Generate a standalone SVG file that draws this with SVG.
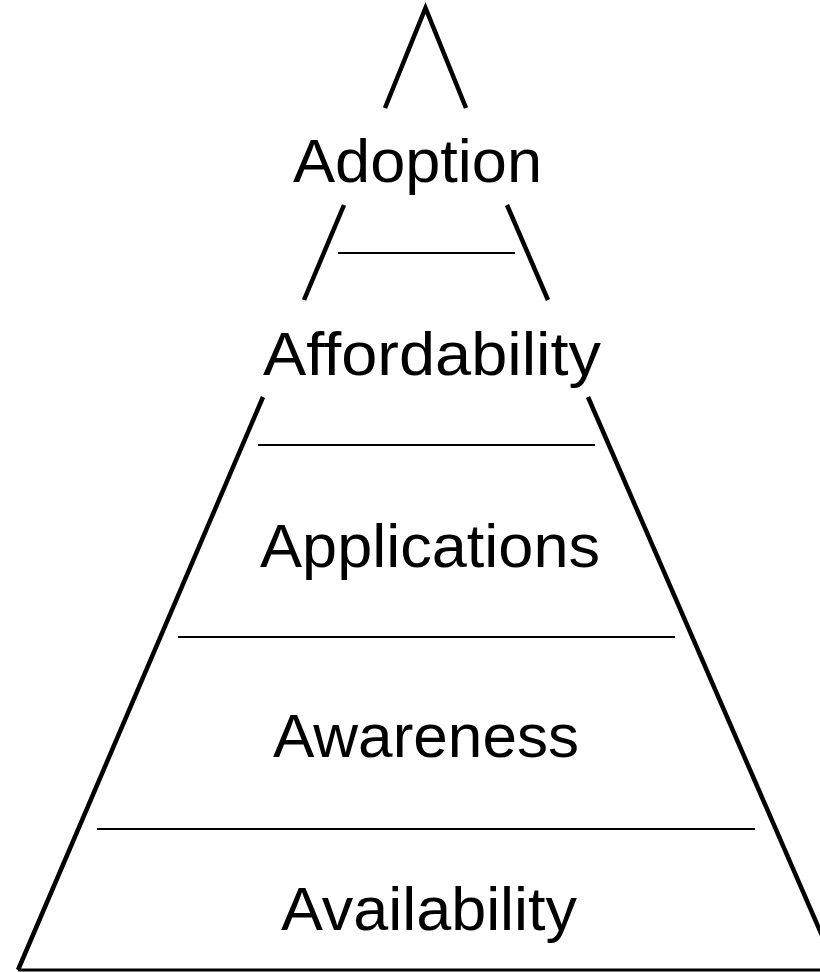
<svg xmlns="http://www.w3.org/2000/svg" width="820" height="972" viewBox="0 0 820 972">
<style>
.edge{stroke:#000;stroke-width:4.5;fill:none;stroke-linecap:butt}
.rule{stroke:#000;stroke-width:2.2;fill:none}
.lbl{font-family:"Liberation Sans",Arial,sans-serif;font-size:62px;fill:#000}
</style>
<rect width="820" height="972" fill="#fff"/>
<g id="connectors">
<polyline class="edge" points="385,108 425.5,8 466,108"/>
<line class="edge" x1="344" y1="205" x2="304" y2="300"/>
<line class="edge" x1="507" y1="205" x2="548" y2="300"/>
<line class="rule" x1="338" y1="253" x2="515" y2="253"/>
<line class="edge" x1="263" y1="397" x2="18" y2="970"/>
<line class="edge" x1="588" y1="397" x2="837" y2="970"/>
<line class="rule" x1="258" y1="445" x2="595" y2="445"/>
<line class="rule" x1="178" y1="637" x2="675" y2="637"/>
<line class="rule" x1="97" y1="829" x2="755" y2="829"/>
<line class="rule" x1="18" y1="970" x2="820" y2="970" style="stroke-width:3"/>
</g>
<g id="adoption"><text class="lbl" x="293" y="182" textLength="249" lengthAdjust="spacingAndGlyphs">Adoption</text></g>
<g id="affordability"><text class="lbl" x="263" y="375" textLength="338" lengthAdjust="spacingAndGlyphs">Affordability</text></g>
<g id="applications"><text class="lbl" x="260" y="567" textLength="340" lengthAdjust="spacingAndGlyphs">Applications</text></g>
<g id="awareness"><text class="lbl" x="273" y="757" textLength="306" lengthAdjust="spacingAndGlyphs">Awareness</text></g>
<g id="availability"><text class="lbl" x="281" y="930" textLength="296" lengthAdjust="spacingAndGlyphs">Availability</text></g>
</svg>
